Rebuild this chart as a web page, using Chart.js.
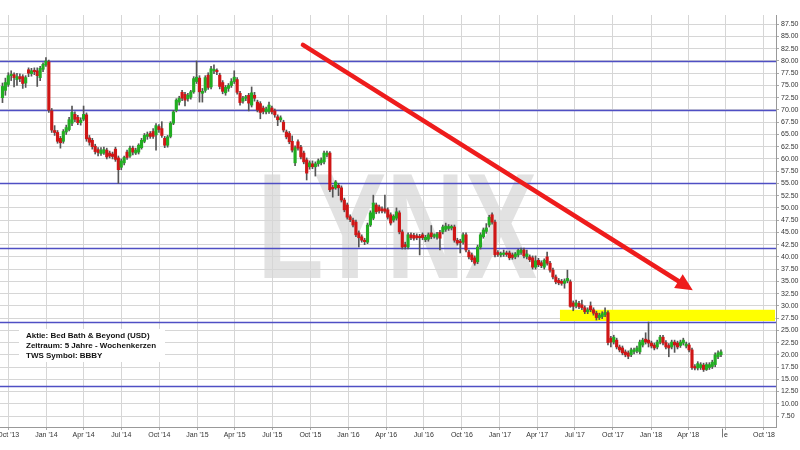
<!DOCTYPE html>
<html><head><meta charset="utf-8">
<script src="https://cdn.jsdelivr.net/npm/chart.js@4.4.1/dist/chart.umd.min.js"></script>
<style>html,body{margin:0;padding:0;background:#fff;}canvas{display:block;}</style>
</head><body>
<canvas id="c" width="800" height="450"></canvas>
<script>
// ---------- DATA ----------
const firstCandle = '2013-09-17';   // weekly candles, one per week from here
const opens = [
72.5,74.0,75.2,77.0,77.2,76.2,76.8,76.8,75.5,78.2,
77.4,78.0,78.0,76.6,78.3,79.2,79.8,69.8,65.8,65.4,
64.2,63.6,65.5,66.0,67.3,69.1,68.5,67.4,68.1,69.0,
64.3,63.8,62.6,61.9,61.1,61.2,61.8,61.2,61.0,62.0,
60.2,58.3,59.2,61.4,60.6,62.2,61.2,61.4,62.3,63.6,
64.6,65.2,65.6,64.9,66.6,66.2,64.2,62.8,64.6,67.3,
69.9,71.6,73.6,73.2,72.3,72.6,73.7,75.8,76.5,73.4,
74.0,77.1,74.7,78.0,78.0,77.1,75.6,73.5,74.4,75.0,
75.8,76.2,73.4,71.8,72.4,73.0,71.0,73.0,71.6,71.3,
70.4,69.6,69.7,70.4,69.8,68.6,68.0,67.5,65.5,65.2,
63.6,59.2,63.5,62.4,61.2,59.8,58.4,59.0,58.4,59.0,
59.2,59.4,60.8,61.2,54.2,54.1,54.6,54.1,51.6,50.6,
48.2,47.5,47.1,44.9,44.1,43.4,43.0,46.5,47.9,50.6,
50.2,49.8,49.8,49.6,48.6,47.5,47.9,49.0,45.1,42.5,
42.0,44.5,44.4,44.3,44.2,44.5,43.5,43.6,44.9,44.2,
44.0,45.0,45.1,45.6,45.8,45.9,46.1,43.4,43.2,43.0,
44.5,41.0,40.4,39.8,39.0,42.0,44.1,45.2,46.5,48.6,
47.1,40.9,40.4,40.5,40.8,40.8,40.4,40.0,40.4,40.9,
41.4,40.0,40.0,39.8,37.9,39.3,38.8,37.9,40.0,38.7,
37.3,35.9,35.2,35.0,34.6,35.1,34.9,30.6,30.0,30.5,
30.2,29.6,28.8,30.0,29.2,28.5,27.6,27.8,28.2,28.6,
23.4,22.6,23.0,21.6,21.4,20.6,20.4,20.0,20.6,20.8,
20.6,22.0,23.2,23.0,22.4,22.0,21.6,22.6,23.6,22.5,
21.9,21.6,22.6,22.4,21.9,22.4,21.8,22.0,21.0,17.6,
17.3,17.4,17.9,17.0,17.4,17.6,18.0,19.6,20.0];
const highs = [
75.5,76.5,77.6,78.0,77.6,77.5,77.4,77.2,77.0,78.6,
78.5,78.6,78.6,78.9,79.6,80.7,80.2,70.3,66.8,65.8,
64.6,66.0,66.9,68.5,70.8,69.6,68.9,68.4,70.8,69.4,
64.8,64.2,63.0,62.3,62.3,62.4,62.2,61.6,61.4,62.4,
60.6,60.0,60.6,61.8,62.6,62.6,62.2,63.1,64.2,65.2,
65.5,65.6,66.2,67.2,67.0,67.6,64.6,64.8,67.6,69.9,
72.3,72.8,74.0,73.6,73.4,74.0,76.8,80.0,77.0,74.4,
77.0,77.6,78.9,79.2,78.4,77.5,76.0,75.0,75.4,76.4,
78.0,76.6,73.8,72.8,73.0,73.4,74.7,73.6,72.0,71.7,
70.8,70.6,71.6,70.8,70.2,69.0,68.8,67.9,65.9,65.6,
64.7,62.7,63.9,62.8,61.6,60.2,59.6,59.6,59.4,60.0,
60.2,61.6,61.6,61.5,54.6,55.6,55.0,54.5,52.0,51.0,
48.6,47.9,47.5,45.3,44.5,43.8,46.9,49.4,52.6,51.0,
50.6,50.2,52.6,50.0,49.0,48.6,50.0,49.4,45.5,43.0,
44.9,44.9,44.8,44.7,44.6,44.9,44.4,44.9,46.4,44.7,
45.0,45.4,46.5,46.9,46.6,46.5,46.5,43.8,43.6,44.9,
44.9,41.4,40.8,40.2,42.4,44.9,45.9,46.8,48.5,49.0,
47.5,41.3,41.0,41.4,41.2,41.2,40.8,40.9,41.6,41.8,
41.8,41.4,40.4,40.2,40.2,39.7,39.2,39.6,41.0,39.1,
37.7,36.3,35.6,35.4,35.5,37.3,35.3,31.0,31.2,30.9,
31.2,30.0,29.6,30.8,29.6,28.9,28.5,28.8,29.6,29.0,
23.8,24.0,23.4,22.0,21.8,21.0,20.8,21.4,21.4,21.8,
23.0,23.4,24.5,26.7,22.8,22.4,23.0,24.0,24.0,22.9,
22.3,23.0,23.0,22.8,23.0,23.4,22.6,22.4,21.4,18.0,
18.6,18.4,18.3,18.4,18.4,18.9,20.4,20.8,21.0];
const lows = [
71.5,73.0,74.8,76.0,74.7,75.0,75.8,74.4,74.6,76.8,
76.9,77.2,74.8,76.0,77.8,78.9,69.5,65.4,64.8,63.2,
62.2,63.2,65.0,65.7,66.8,67.6,67.0,66.9,67.8,63.6,
62.8,62.0,61.0,60.6,60.7,60.9,60.0,60.2,60.0,59.5,
55.0,57.8,58.8,59.9,60.3,60.8,60.9,61.0,62.0,63.3,
64.0,64.2,64.2,61.8,65.4,64.4,62.3,62.4,64.3,67.0,
69.6,71.0,71.9,70.8,71.8,72.2,73.4,75.4,71.6,71.6,
73.6,74.2,74.3,77.4,77.2,74.3,73.3,73.0,73.8,74.6,
75.4,73.2,71.0,71.4,71.9,69.8,70.6,71.8,69.6,68.2,
69.2,69.2,69.3,69.2,68.5,66.8,67.6,65.5,64.1,63.1,
61.4,58.6,61.8,60.0,59.0,55.7,57.9,58.0,56.5,58.5,
58.8,59.0,60.4,53.3,52.2,53.8,52.5,51.2,49.2,47.7,
47.2,46.1,44.1,42.0,43.0,42.5,42.7,46.2,47.6,48.8,
48.9,49.0,48.9,47.7,46.5,47.1,47.5,44.7,41.6,41.6,
41.6,43.5,43.4,43.5,40.4,43.5,43.1,43.2,43.7,43.8,
43.6,41.4,44.7,45.2,45.4,45.5,43.0,42.4,40.8,42.6,
41.0,39.6,39.0,38.3,38.6,41.6,43.8,44.8,46.1,46.7,
40.0,40.1,40.0,40.1,40.1,39.4,39.5,39.6,40.0,40.5,
39.8,39.6,39.0,37.5,37.5,38.0,37.8,37.5,38.3,36.9,
35.5,34.5,34.3,34.2,33.6,34.7,29.7,29.0,29.6,29.4,
29.2,28.4,28.4,28.8,28.1,27.1,27.2,27.4,27.8,22.0,
21.6,22.2,21.2,20.6,20.0,19.6,19.2,19.6,20.2,20.4,
20.2,21.6,22.2,21.6,21.4,21.0,21.2,22.2,22.0,21.2,
19.6,21.2,20.5,21.2,21.5,22.0,21.4,20.6,17.0,16.9,
16.9,17.0,16.6,16.8,17.0,17.2,17.6,19.2,19.6];
const closes = [
74.8,75.6,77.0,77.3,76.6,76.8,76.4,75.4,76.6,77.5,
78.0,77.8,77.0,78.5,79.3,80.0,70.0,65.9,65.4,63.6,
63.3,65.6,66.4,68.0,69.5,68.1,67.4,67.9,69.1,64.1,
63.4,62.5,61.5,61.3,61.8,61.9,60.4,60.6,60.5,59.9,
57.8,59.6,60.3,60.3,62.2,61.4,61.8,62.8,63.8,64.8,
65.0,64.6,64.6,66.8,66.0,64.8,62.8,64.5,67.3,69.6,
72.0,72.4,72.4,72.0,73.0,73.7,76.4,76.7,73.7,73.8,
76.6,74.6,78.4,78.2,77.8,74.8,73.8,74.6,75.0,75.8,
76.7,73.6,71.5,72.4,72.5,71.4,73.5,72.4,70.0,69.5,
69.7,70.2,71.0,69.6,69.0,68.0,68.4,65.9,64.5,63.5,
61.8,62.3,62.2,60.4,59.4,57.1,59.2,58.4,59.0,59.6,
59.8,61.2,61.2,53.7,53.9,55.3,54.1,51.6,49.6,48.1,
47.6,46.5,44.5,43.9,43.4,43.1,46.5,49.0,51.0,49.2,
49.4,49.4,49.3,48.1,46.9,48.3,49.2,45.1,42.0,42.1,
44.5,43.9,43.8,43.9,43.9,43.9,44.0,44.5,44.1,44.3,
44.7,43.8,46.1,46.3,46.2,46.1,43.4,42.8,42.9,44.5,
41.4,40.0,39.4,38.7,42.0,44.5,45.5,45.9,48.1,47.1,
40.4,40.5,40.7,40.7,40.5,39.8,39.9,40.6,41.3,41.4,
40.2,40.6,39.4,37.9,39.2,38.4,38.2,39.3,38.7,37.3,
35.9,34.9,34.7,34.6,35.1,35.6,29.9,29.9,30.6,29.8,
29.6,28.8,29.2,29.2,28.5,27.6,28.1,28.4,28.7,22.5,
22.6,23.6,21.6,21.0,20.4,20.0,19.7,21.0,21.0,21.4,
22.6,23.0,22.6,22.4,21.8,21.4,22.6,23.6,22.4,21.6,
21.4,22.6,22.0,21.6,22.6,23.0,22.2,21.0,17.4,17.3,
18.2,18.0,17.0,18.0,18.0,18.5,20.0,20.4,20.6];

const quarterDates = ['2013-10-01','2014-01-01','2014-04-01','2014-07-01','2014-10-01','2015-01-01','2015-04-01',
  '2015-07-01','2015-10-01','2016-01-01','2016-04-01','2016-07-01','2016-10-01','2017-01-01','2017-04-01',
  '2017-07-01','2017-10-01','2018-01-01','2018-04-01','2018-07-01','2018-10-01'];
const quarterLabels = ["Oct '13","Jan '14","Apr '14","Jul '14","Oct '14","Jan '15","Apr '15","Jul '15","Oct '15",
  "Jan '16","Apr '16","Jul '16","Oct '16","Jan '17","Apr '17","Jul '17","Oct '17","Jan '18","Apr '18","e","Oct '18"];
const yTickValues = [7.5,10,12.5,15,17.5,20,22.5,25,27.5,30,32.5,35,37.5,40,42.5,45,47.5,50,52.5,55,57.5,60,62.5,65,67.5,70,72.5,75,77.5,80,82.5,85,87.5];
const levelLines = [80, 70, 55, 41.9, 26.8, 13.7];
const zoneRange = [26.9, 29.2];
const zoneStart = '2017-05-26';
const arrowFrom = ['2015-09-13', 83.3];
const arrowTo = ['2018-04-12', 33.2];
const infoLines = ['Aktie: Bed Bath & Beyond (USD)', 'Zeitraum: 5 Jahre - Wochenkerzen', 'TWS Symbol: BBBY'];
const watermark = 'LYNX';
const viewStart = '2013-09-11', viewEnd = '2018-10-30';
const yRange = [5.26, 89.39];

// ---------- helpers ----------
const ORIGIN = Date.parse('2013-10-01');
const WEEK = 7 * 864e5;
const wk = d => (Date.parse(d) - ORIGIN) / WEEK;
const x0 = wk(firstCandle);
const candleX = opens.map((_, i) => x0 + i);
const GREEN = '#22ad22', RED = '#cf1616';

const overlay = {
  id: 'overlay',
  beforeDraw(chart) {
    const {ctx, chartArea: a} = chart;
    ctx.save();
    ctx.beginPath(); ctx.rect(a.left, a.top, a.width, a.height); ctx.clip();
    ctx.fillStyle = '#e2e2e2';
    ctx.font = 'bold 151px "Liberation Sans", Arial, sans-serif';
    ctx.textAlign = 'center'; ctx.textBaseline = 'alphabetic';
    ctx.translate(a.left + a.width * 0.512, a.top + 263);
    ctx.scale(0.72, 1);
    ctx.fillText(watermark, 0, 0);
    ctx.restore();
  },
  beforeDatasetsDraw(chart) {
    const {ctx, chartArea: a, scales: {x, y}} = chart;
    ctx.save();
    const zx = x.getPixelForValue(wk(zoneStart));
    const zt = y.getPixelForValue(zoneRange[1]), zb = y.getPixelForValue(zoneRange[0]);
    ctx.fillStyle = '#ffff00';
    ctx.fillRect(zx, zt, a.right - 1 - zx, zb - zt);
    ctx.strokeStyle = '#4f4fc4'; ctx.lineWidth = 1.3;
    levelLines.forEach(v => {
      const py = Math.round(y.getPixelForValue(v)) + 0.5;
      ctx.beginPath(); ctx.moveTo(a.left, py); ctx.lineTo(a.right, py); ctx.stroke();
    });
    ctx.restore();
  },
  afterDatasetsDraw(chart) {
    const {ctx, chartArea: a, scales: {x, y}} = chart;
    ctx.save();
    const x1 = x.getPixelForValue(wk(arrowFrom[0])), y1 = y.getPixelForValue(arrowFrom[1]);
    const x2 = x.getPixelForValue(wk(arrowTo[0])), y2 = y.getPixelForValue(arrowTo[1]);
    const ang = Math.atan2(y2 - y1, x2 - x1);
    const hl = 17, hw = 8;
    const bx = x2 - hl * Math.cos(ang), by = y2 - hl * Math.sin(ang);
    ctx.strokeStyle = '#ee1c1c'; ctx.fillStyle = '#ee1c1c';
    ctx.lineWidth = 4.5; ctx.lineCap = 'round';
    ctx.beginPath(); ctx.moveTo(x1, y1); ctx.lineTo(bx + 4 * Math.cos(ang), by + 4 * Math.sin(ang)); ctx.stroke();
    ctx.beginPath();
    ctx.moveTo(x2, y2);
    ctx.lineTo(bx + hw * Math.sin(ang), by - hw * Math.cos(ang));
    ctx.lineTo(bx - hw * Math.sin(ang), by + hw * Math.cos(ang));
    ctx.closePath(); ctx.fill();
    ctx.fillStyle = '#ffffff';
    ctx.fillRect(a.left + 19, 329, 146, 33);
    ctx.fillStyle = '#111';
    ctx.font = 'bold 8px "Liberation Sans", Arial, sans-serif';
    ctx.textAlign = 'left'; ctx.textBaseline = 'middle';
    infoLines.forEach((t, i) => ctx.fillText(t, a.left + 26, 336 + i * 10));
    const mx = Math.round(x.getPixelForValue(wk(quarterDates[19]))) - 3.5;
    ctx.strokeStyle = '#777'; ctx.lineWidth = 1;
    ctx.beginPath(); ctx.moveTo(mx, a.bottom + 2); ctx.lineTo(mx, a.bottom + 10); ctx.stroke();
    ctx.restore();
  }
};

new Chart(document.getElementById('c'), {
  type: 'bar',
  data: {
    datasets: [
      {
        label: 'wick',
        data: candleX.map((xv, i) => ({x: xv, y: [lows[i], highs[i]]})),
        backgroundColor: '#555',
        barThickness: 1,
        grouped: false,
        order: 2
      },
      {
        label: 'body',
        data: candleX.map((xv, i) => ({x: xv, y: [opens[i], closes[i]]})),
        backgroundColor: c => closes[c.dataIndex] >= opens[c.dataIndex] ? GREEN : RED,
        barThickness: 2.5,
        minBarLength: 1.5,
        grouped: false,
        order: 1
      }
    ]
  },
  options: {
    responsive: false,
    animation: false,
    events: [],
    layout: {padding: {top: 15, left: 0, right: 0, bottom: 0}},
    plugins: {legend: {display: false}, tooltip: {enabled: false}},
    scales: {
      x: {
        type: 'linear',
        offset: false,
        min: wk(viewStart), max: wk(viewEnd),
        afterBuildTicks: s => { s.ticks = quarterDates.map(d => ({value: wk(d)})); },
        afterFit: s => { s.height = 23; s.paddingLeft = 0; s.paddingRight = 0; },
        grid: {offset: false, color: '#d6d6d6', lineWidth: 1, borderDash: [1, 2], drawTicks: true, tickLength: 3, tickColor: '#aaa', tickBorderDash: []},
        border: {display: true, color: '#999', width: 1},
        ticks: {
          autoSkip: false, maxRotation: 0, padding: 1,
          color: '#333', font: {size: 7, family: '"Liberation Sans", Arial, sans-serif'},
          callback: (v, i) => quarterLabels[i]
        }
      },
      y: {
        type: 'linear',
        position: 'right',
        min: yRange[0], max: yRange[1],
        afterBuildTicks: s => { s.ticks = yTickValues.map(v => ({value: v})); },
        afterFit: s => { s.width = 24; s.paddingTop = 0; s.paddingBottom = 0; },
        grid: {color: '#d6d6d6', lineWidth: 1, borderDash: [1, 2], drawTicks: true, tickLength: 3, tickColor: '#aaa', tickBorderDash: []},
        border: {display: true, color: '#999', width: 1},
        ticks: {
          autoSkip: false, padding: 2,
          color: '#333', font: {size: 7, family: '"Liberation Sans", Arial, sans-serif'},
          callback: v => Number(v).toFixed(2)
        }
      }
    }
  },
  plugins: [overlay]
});
</script>
</body></html>
